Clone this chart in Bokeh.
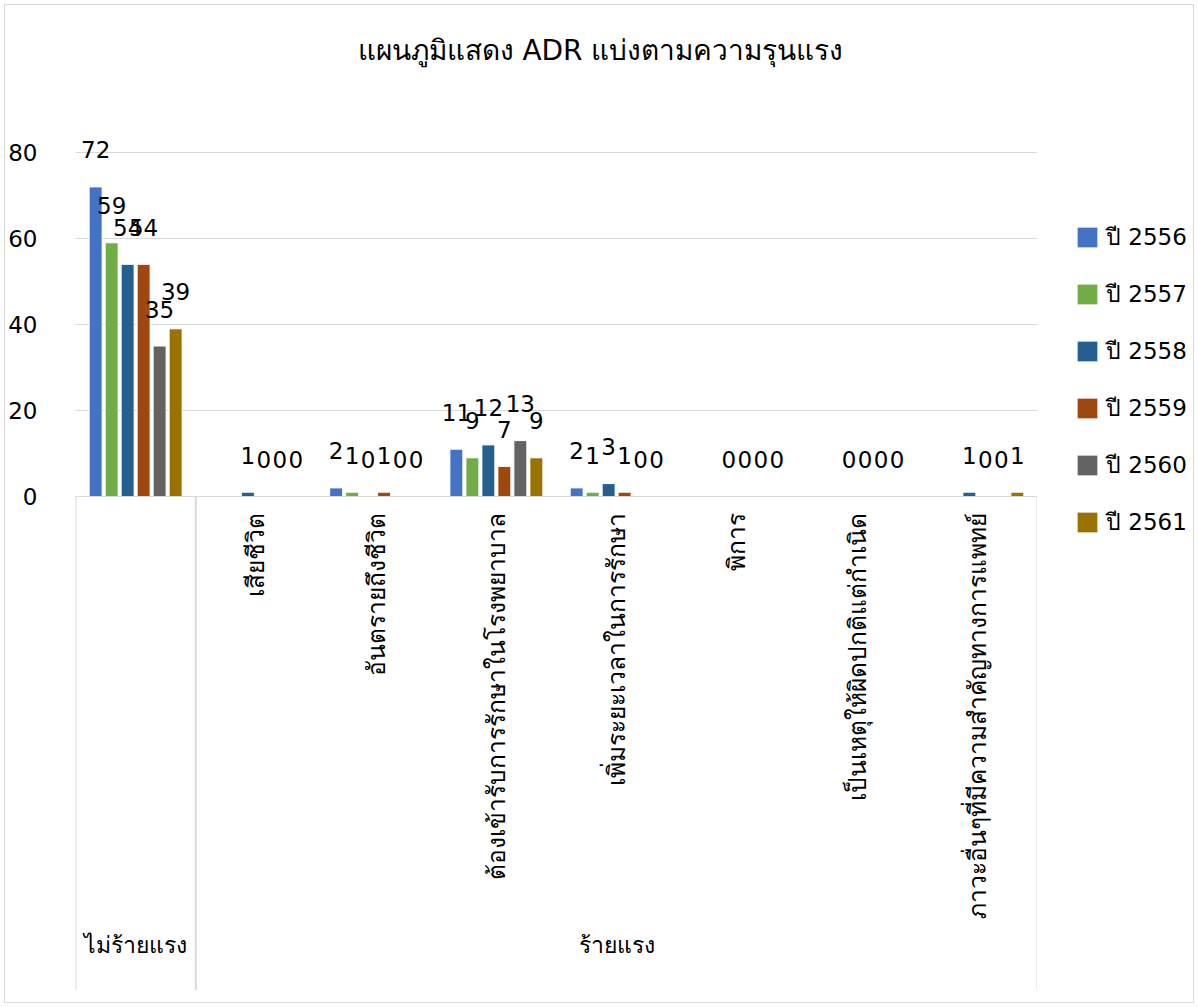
import math
from bokeh.plotting import figure
from bokeh.layouts import row
from bokeh.models import (FactorRange, Range1d, ColumnDataSource, Legend, LegendItem,
                          FixedTicker, Title)
from bokeh.transform import dodge
from bokeh.core.properties import value
from bokeh.embed import file_html
from bokeh.resources import INLINE

# ---------------- data ----------------
title_text = "แผนภูมิแสดง ADR แบ่งตามความรุนแรง"
groups = ["ไม่ร้ายแรง", "ร้ายแรง", "ร้ายแรง", "ร้ายแรง", "ร้ายแรง", "ร้ายแรง", "ร้ายแรง", "ร้ายแรง"]
subcats = [" ", "เสียชีวิต", "อันตรายถึงชีวิต", "ต้องเข้ารับการรักษาในโรงพยาบาล",
           "เพิ่มระยะเวลาในการรักษา", "พิการ", "เป็นเหตุให้ผิดปกติแต่กำเนิด",
           "ภาวะอื่นๆที่มีความสำคัญทางการแพทย์"]
series_names = ["ปี 2556", "ปี 2557", "ปี 2558", "ปี 2559", "ปี 2560", "ปี 2561"]
y2556 = [72, None, 2, 11, 2, None, None, None]
y2557 = [59, None, 1, 9, 1, None, None, None]
y2558 = [54, 1, 0, 12, 3, 0, 0, 1]
y2559 = [54, 0, 1, 7, 1, 0, 0, 0]
y2560 = [35, 0, 0, 13, 0, 0, 0, 0]
y2561 = [39, 0, 0, 9, 0, 0, 0, 1]
series_values = [y2556, y2557, y2558, y2559, y2560, y2561]
y_ticks = [0, 20, 40, 60, 80]
colors = ["#4472C4", "#70AD47", "#255E91", "#9E480E", "#636363", "#997300"]

FONT = "DejaVu Sans"
factors = list(zip(groups, subcats))
n_cat = len(factors)
n_first = groups.count(groups[0])

PX = 4.3  # pixels per unit on the value axis
H = 997
p = figure(width=1032, height=H,
           x_range=FactorRange(*factors, group_padding=0, factor_padding=0, range_padding=0),
           y_range=Range1d(-494 / PX, 80 + 22 / PX), output_backend="svg", toolbar_location=None,
           min_border_left=70, min_border_right=0, min_border_top=125, min_border_bottom=12)
p.title.visible = False
p.add_layout(Title(text=" ", text_font_size="1px", standoff=56), "above")
p.add_layout(Title(text=title_text, align="left", offset=282, text_font=FONT,
                   text_font_size="28px", text_font_style="normal", text_color="#000000",
                   standoff=10), "above")

p.outline_line_color = None
p.background_fill_color = "white"
p.border_fill_color = "white"

# y axis
p.yaxis.ticker = FixedTicker(ticks=y_ticks)
p.yaxis.axis_line_color = None
p.yaxis.major_tick_line_color = None
p.yaxis.minor_tick_line_color = None
p.yaxis.major_label_text_font = FONT
p.yaxis.major_label_text_font_size = "23px"
p.yaxis.major_label_text_color = "#000000"
p.yaxis.major_label_standoff = 32
p.ygrid.ticker = FixedTicker(ticks=y_ticks)
p.ygrid.grid_line_color = "#d9d9d9"
p.ygrid.grid_line_width = 1
p.xgrid.grid_line_color = None

# x axis (drawn at value 0)
p.xaxis.fixed_location = 0
p.xaxis.axis_line_color = "#d9d9d9"
p.xaxis.axis_line_width = 1
p.xaxis.major_tick_line_color = None
p.xaxis.minor_tick_line_color = None
p.xaxis.major_label_orientation = math.pi / 2
p.xaxis.major_label_text_font = FONT
p.xaxis.major_label_text_font_size = "24.5px"
p.xaxis.major_label_text_color = "#000000"
p.xaxis.major_label_standoff = 10
p.xaxis.group_text_font = FONT
p.xaxis.group_text_font_size = "23px"
p.xaxis.group_text_font_style = "normal"
p.xaxis.group_text_color = "#000000"
p.xaxis.separator_line_color = None

# vertical separators at the group boundaries
bounds = [0, n_first, n_cat]
p.segment(x0=bounds, x1=bounds, y0=[0] * 3, y1=[p.y_range.start] * 3,
          line_color="#d9d9d9", line_width=2)

step = 0.133
offsets = [(-2.5 + i) * step for i in range(6)]
for name, vals, col, off in zip(series_names, series_values, colors, offsets):
    xs = [f for f, v in zip(factors, vals) if v is not None]
    ys = [v for v in vals if v is not None]
    src = ColumnDataSource(dict(x=xs, top=ys, lab=[str(v) for v in ys]))
    p.vbar(x=dodge("x", off, range=p.x_range), top="top", width=0.108, source=src,
           fill_color=col, line_color="white", line_width=1)
    p.text(x=dodge("x", off, range=p.x_range), y="top", text="lab", source=src,
           text_font=value(FONT), text_font_size="23px", text_color="#000000",
           text_align="center", text_baseline="middle", y_offset=-37)

# ---------------- legend panel ----------------
pl = figure(width=156, height=H, x_range=Range1d(0, 1), y_range=Range1d(0, 1),
            x_axis_location=None, y_axis_location=None, output_backend="svg",
            toolbar_location=None, min_border=0)
pl.grid.visible = False
pl.outline_line_color = None
pl.title.visible = False
legend_items = []
for name, col in zip(series_names, colors):
    # off-range proxy glyph: only its swatch is shown in the legend
    r = pl.vbar(x=[-5], top=[-5], width=0.1, fill_color=col, line_color="white", line_width=1)
    legend_items.append(LegendItem(label=name, renderers=[r]))
legend = Legend(items=legend_items, location=(37, 450), glyph_width=26, glyph_height=26,
                label_text_font=FONT, label_text_font_size="23px", label_text_color="#000000",
                spacing=21, label_standoff=6, border_line_color=None, ncols=1,
                background_fill_alpha=0, padding=0, margin=0)
pl.add_layout(legend)

layout = row(p, pl, spacing=0)
layout.margin = (4, 4, 4, 4)
layout.styles = {"border": "1px solid #d9d9d9"}

open("out.html", "w").write(file_html(layout, INLINE))
